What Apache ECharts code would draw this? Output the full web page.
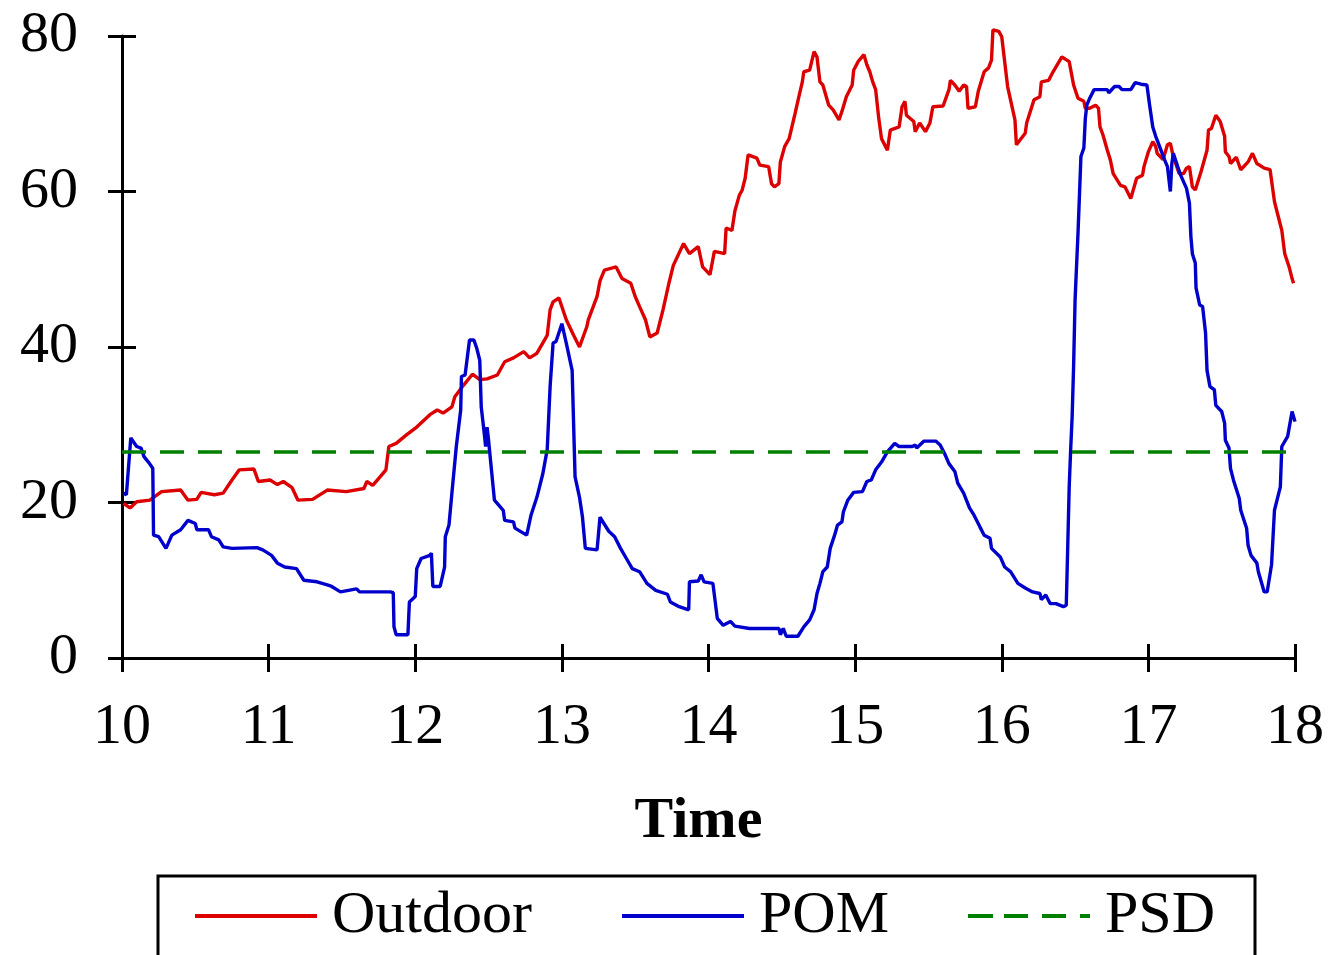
<!DOCTYPE html>
<html>
<head>
<meta charset="utf-8">
<script src="https://cdn.jsdelivr.net/npm/echarts@6/dist/echarts.min.js"></script>
<style>
html,body{margin:0;padding:0;background:#fff;}
#chart{width:1332px;height:955px;}
</style>
</head>
<body>
<div id="chart"></div>
<script>
// ---------- data ----------
const xTicks = [10, 11, 12, 13, 14, 15, 16, 17, 18];
const yTicks = [0, 20, 40, 60, 80];

const outdoorTime = [10.01,10.055,10.10,10.19,10.27,10.40,10.45,10.51,10.54,10.63,10.69,10.75,10.80,10.90,10.93,11.01,11.06,11.10,11.16,11.20,11.30,11.40,11.53,11.65,11.67,11.71,11.76,11.80,11.82,11.87,11.94,12.01,12.10,12.15,12.19,12.25,12.27,12.33,12.39,12.44,12.49,12.56,12.61,12.67,12.74,12.78,12.83,12.90,12.92,12.94,12.98,13.03,13.08,13.12,13.17,13.18,13.24,13.26,13.29,13.37,13.41,13.47,13.50,13.53,13.57,13.60,13.65,13.69,13.73,13.76,13.83,13.87,13.93,13.96,14.01,14.04,14.11,14.12,14.16,14.18,14.21,14.23,14.25,14.27,14.33,14.35,14.41,14.43,14.45,14.48,14.49,14.52,14.55,14.59,14.62,14.64,14.65,14.69,14.72,14.74,14.76,14.78,14.82,14.85,14.89,14.91,14.94,14.98,14.99,15.02,15.06,15.08,15.10,15.12,15.14,15.16,15.18,15.22,15.24,15.30,15.32,15.34,15.35,15.40,15.41,15.44,15.48,15.51,15.53,15.60,15.64,15.65,15.68,15.71,15.74,15.76,15.77,15.82,15.84,15.88,15.91,15.93,15.94,15.98,16.00,16.04,16.09,16.10,16.16,16.17,16.22,16.26,16.27,16.32,16.35,16.41,16.46,16.49,16.52,16.56,16.57,16.60,16.64,16.66,16.67,16.69,16.72,16.74,16.76,16.81,16.84,16.88,16.92,16.96,16.97,17.00,17.03,17.05,17.06,17.10,17.13,17.15,17.17,17.21,17.24,17.26,17.28,17.30,17.32,17.36,17.40,17.41,17.43,17.46,17.49,17.52,17.525,17.55,17.56,17.60,17.63,17.68,17.71,17.74,17.79,17.83,17.86,17.88,17.91,17.93,17.96,17.98,17.99];
const outdoorValue = [19.9,19.3,20.1,20.3,21.4,21.6,20.3,20.4,21.3,21.0,21.2,22.9,24.2,24.3,22.7,22.9,22.3,22.7,21.9,20.3,20.4,21.6,21.4,21.8,22.7,22.2,23.3,24.2,27.2,27.6,28.7,29.7,31.3,31.9,31.5,32.3,33.6,35.1,36.5,35.8,35.9,36.4,38.1,38.6,39.4,38.6,39.2,41.5,44.8,45.8,46.3,43.5,41.5,40.0,42.6,43.5,46.5,48.5,49.9,50.3,48.8,48.2,46.5,45.2,43.5,41.3,41.8,44.8,48.2,50.5,53.3,52.0,52.9,50.3,49.3,52.3,52.0,55.3,55.0,57.5,59.5,60.2,61.7,64.7,64.3,63.4,63.2,61.0,60.6,61.0,63.8,65.8,66.8,70.0,72.5,74.1,75.4,75.6,78.0,77.3,74.1,73.7,71.1,70.5,69.2,70.3,72.2,73.7,75.6,76.7,77.6,76.3,75.4,74.1,73.1,69.6,66.8,65.3,67.9,68.3,70.9,71.6,69.8,69.0,67.7,68.8,67.7,68.8,70.9,71.0,73.1,74.3,73.7,72.9,73.7,73.5,70.7,70.9,72.9,75.4,75.9,76.9,80.8,80.6,79.9,73.5,69.2,66.0,67.5,68.8,71.8,72.2,74.1,74.3,75.4,77.3,76.7,73.7,72.0,71.6,70.7,70.7,71.1,70.7,68.3,67.3,65.3,64.1,62.3,60.8,60.6,59.1,61.7,62.1,63.2,65.1,66.4,65.8,64.9,64.1,66.0,66.2,64.5,62.3,62.3,63.0,63.2,60.6,60.2,62.6,65.3,67.9,68.1,69.8,69.0,67.1,65.1,64.5,63.6,64.4,62.8,63.8,64.9,63.6,63.0,62.8,58.7,57.2,55.0,52.0,50.3,48.8,48.2];

const pomTime = [10.01,10.03,10.06,10.10,10.13,10.15,10.18,10.21,10.215,10.25,10.30,10.34,10.40,10.45,10.50,10.51,10.59,10.61,10.66,10.69,10.75,10.92,10.96,11.02,11.06,11.11,11.19,11.24,11.33,11.40,11.43,11.49,11.60,11.62,11.83,11.85,11.855,11.87,11.95,11.96,12.00,12.01,12.04,12.10,12.11,12.12,12.17,12.20,12.205,12.23,12.25,12.28,12.31,12.315,12.34,12.35,12.37,12.40,12.42,12.44,12.45,12.47,12.48,12.49,12.50,12.54,12.60,12.61,12.67,12.68,12.76,12.79,12.83,12.87,12.90,12.92,12.94,12.96,13.00,13.03,13.07,13.09,13.12,13.14,13.16,13.24,13.26,13.32,13.36,13.40,13.44,13.48,13.53,13.58,13.64,13.72,13.74,13.80,13.865,13.87,13.93,13.95,13.97,14.03,14.06,14.10,14.15,14.18,14.28,14.48,14.49,14.51,14.53,14.61,14.65,14.69,14.72,14.74,14.76,14.78,14.81,14.83,14.86,14.88,14.91,14.92,14.95,14.99,15.05,15.08,15.11,15.14,15.18,15.22,15.27,15.30,15.39,15.41,15.42,15.47,15.55,15.58,15.61,15.64,15.68,15.70,15.74,15.78,15.81,15.85,15.88,15.92,15.93,15.99,16.02,16.06,16.11,16.16,16.21,16.26,16.27,16.30,16.33,16.37,16.42,16.44,16.45,16.46,16.47,16.48,16.49,16.50,16.505,16.52,16.54,16.56,16.57,16.58,16.60,16.63,16.72,16.73,16.77,16.80,16.82,16.88,16.90,16.91,16.95,16.99,17.01,17.03,17.05,17.06,17.08,17.11,17.13,17.15,17.16,17.17,17.20,17.22,17.26,17.28,17.29,17.30,17.32,17.325,17.35,17.37,17.39,17.40,17.42,17.45,17.46,17.50,17.52,17.525,17.55,17.56,17.58,17.62,17.63,17.67,17.68,17.70,17.74,17.75,17.79,17.81,17.84,17.86,17.90,17.91,17.95,17.98,18.00];
const pomValue = [21.2,21.0,28.3,27.2,27.0,25.9,25.2,24.4,15.8,15.6,14.1,15.8,16.5,17.7,17.3,16.5,16.5,15.6,15.2,14.3,14.1,14.2,13.9,13.2,12.2,11.7,11.5,10.0,9.8,9.4,9.2,8.5,8.9,8.5,8.5,8.4,4.0,3.0,3.0,7.2,7.9,11.5,12.8,13.2,13.5,9.2,9.2,11.7,15.6,17.1,21.2,27.2,31.9,36.2,36.4,36.6,40.9,40.9,39.8,38.3,32.3,29.0,27.2,29.7,28.0,20.3,19.0,17.7,17.5,16.7,15.8,18.4,20.7,23.7,26.8,35.0,40.5,40.7,43.0,40.5,37.0,23.3,20.7,18.2,14.1,13.9,18.1,16.3,15.6,14.1,12.8,11.5,11.1,9.6,8.7,8.2,7.2,6.6,6.2,9.8,9.9,10.7,9.8,9.6,5.1,4.2,4.7,4.1,3.8,3.8,3.0,3.8,2.8,2.8,4.0,4.9,6.2,8.3,9.6,11.1,11.7,14.1,15.8,17.1,17.5,18.8,20.3,21.3,21.4,22.7,22.9,24.2,25.2,26.5,27.6,27.2,27.2,27.4,27.0,27.9,27.9,27.4,26.3,25.0,24.0,22.5,21.2,19.3,18.4,16.9,15.8,15.4,14.1,13.0,11.7,11.1,9.6,9.0,8.5,8.3,7.5,8.1,7.0,7.0,6.6,6.8,14.3,22.0,26.8,31.0,37.5,46.0,48.2,54.6,64.5,65.6,69.4,71.1,72.0,73.1,73.1,72.7,73.5,73.5,73.1,73.1,73.7,74.0,73.8,73.7,70.9,68.3,67.1,66.6,65.6,64.1,63.2,60.0,63.6,64.9,63.2,62.1,60.4,58.5,54.2,52.0,50.8,47.6,45.4,45.2,41.8,37.0,34.9,34.5,32.5,31.7,30.2,28.0,27.0,24.4,22.9,20.5,19.0,16.7,14.5,13.2,12.2,11.1,8.5,8.5,12.0,19.0,22.0,27.2,28.5,31.7,30.4];

const psdTime = [10, 18];
const psdValue = [26.5, 26.5];

const seriesNames = ['Outdoor', 'POM', 'PSD'];

// ---------- chart ----------
function zip(a, b) { return a.map((t, i) => [t, b[i]]); }

const FONT = "'Liberation Serif', 'Times New Roman', serif";
const chart = echarts.init(document.getElementById('chart'), null, {renderer: 'canvas'});

const axisCommon = {
  axisLine: {show: true, onZero: false, lineStyle: {color: '#000', width: 3}},
  splitLine: {show: false}
};

const LW = 3.4;
const legendBase = {
  top: 886,
  padding: 0,
  itemWidth: 122,
  itemHeight: 4,
  textStyle: {fontFamily: FONT, fontSize: 60, color: '#000', lineHeight: 60, padding: [0, 0, 0, 10]}
};
const solidIcon = 'path://M0,0h122v4h-122z';
const dashIcon = 'path://M0,0h25v4h-25z M36,0h24v4h-24z M74,0h24v4h-24z M112,0h10v4h-10z';

chart.setOption({
  animation: false,
  backgroundColor: '#fff',
  grid: {left: 122, right: 37, top: 36, bottom: 297, containLabel: false},
  xAxis: [
    Object.assign({}, axisCommon, {
      type: 'value', position: 'bottom', min: xTicks[0], max: xTicks[xTicks.length - 1], interval: 1,
      axisTick: {show: true, inside: false, length: 14, lineStyle: {color: '#000', width: 3}},
      axisLabel: {show: true, margin: 41, fontFamily: FONT, fontSize: 58, color: '#000'},
      name: 'Time', nameLocation: 'middle', nameGap: 135,
      nameTextStyle: {fontFamily: FONT, fontSize: 58, fontWeight: 'bold', color: '#000', padding: [0, 20, 0, 0]}
    }),
    {
      type: 'value', position: 'bottom', min: xTicks[0], max: xTicks[xTicks.length - 1], interval: 1,
      axisLine: {show: false, onZero: false}, splitLine: {show: false},
      axisTick: {show: true, inside: true, length: 14, lineStyle: {color: '#000', width: 3}},
      axisLabel: {show: false}
    }
  ],
  yAxis: [
    Object.assign({}, axisCommon, {
      type: 'value', position: 'left', min: yTicks[0], max: yTicks[yTicks.length - 1], interval: 20,
      axisTick: {show: true, inside: false, length: 14, lineStyle: {color: '#000', width: 3}},
      axisLabel: {show: true, margin: 44, fontFamily: FONT, fontSize: 58, color: '#000'}
    }),
    {
      type: 'value', position: 'left', min: yTicks[0], max: yTicks[yTicks.length - 1], interval: 20,
      axisLine: {show: false, onZero: false}, splitLine: {show: false},
      axisTick: {show: true, inside: true, length: 14, lineStyle: {color: '#000', width: 3}},
      axisLabel: {show: false}
    }
  ],
  legend: [
    Object.assign({}, legendBase, {left: 195, data: [{name: seriesNames[0], icon: solidIcon}]}),
    Object.assign({}, legendBase, {left: 622, data: [{name: seriesNames[1], icon: solidIcon}]}),
    Object.assign({}, legendBase, {left: 968, data: [{name: seriesNames[2], icon: dashIcon}]})
  ],
  graphic: [{
    type: 'rect', z: 100,
    shape: {x: 158, y: 876, width: 1097, height: 200},
    style: {fill: 'none', stroke: '#000', lineWidth: 3}
  }],
  series: [
    {
      name: seriesNames[0], type: 'line', data: zip(outdoorTime, outdoorValue),
      symbol: 'none', showSymbol: false, clip: false, color: '#dd0000',
      lineStyle: {color: '#dd0000', width: LW}
    },
    {
      name: seriesNames[1], type: 'line', data: zip(pomTime, pomValue),
      symbol: 'none', showSymbol: false, clip: false, color: '#0000cc',
      lineStyle: {color: '#0000cc', width: LW}
    },
    {
      name: seriesNames[2], type: 'line', data: zip(psdTime, psdValue),
      symbol: 'none', showSymbol: false, clip: false, color: '#008000',
      lineStyle: {color: '#008000', width: LW, type: [24, 14]}
    }
  ]
});
</script>
</body>
</html>
